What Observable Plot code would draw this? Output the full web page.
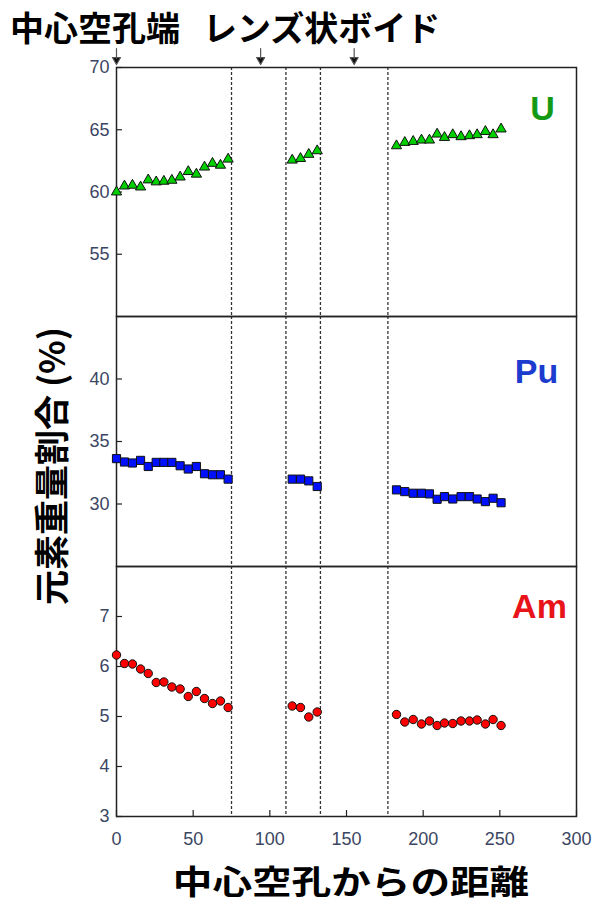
<!DOCTYPE html>
<html><head><meta charset="utf-8">
<script src="https://cdn.jsdelivr.net/npm/d3@7"></script>
<script src="https://cdn.jsdelivr.net/npm/@observablehq/plot@0.6"></script>
<style>
html,body{margin:0;padding:0;background:#fff;}
#wrap{position:relative;width:598px;height:904px;overflow:hidden;font-family:"Noto Sans CJK JP",sans-serif;}
.abs{position:absolute;}
.ttl{font-family:"Noto Sans CJK JP";font-weight:bold;color:#000;line-height:1;white-space:nowrap;}
</style></head>
<body><div id="wrap"></div>
<script>
// ---- data ----
const xGroup1 = [0, 5.2, 10.4, 15.7, 20.7, 25.9, 30.9, 36.1, 41.5, 46.8, 52.1, 57.4, 62.6, 67.8, 72.8];
const xGroup2 = [114.6, 120, 125.4, 130.9];
const xGroup3 = [182.6, 188, 193.5, 198.9, 204.1, 209.1, 213.9, 219.3, 224.7, 230.2, 235.2, 240.6, 245.6, 250.8];
const uValues = [60.0, 60.48, 60.54, 60.4, 60.97, 60.81, 60.86, 60.94, 61.2, 61.64, 61.43, 62.0, 62.3, 62.15, 62.64,
                 62.56, 62.69, 63.02, 63.31,
                 63.71, 63.98, 64.06, 64.17, 64.17, 64.65, 64.38, 64.6, 64.44, 64.52, 64.6, 64.86, 64.6, 65.06];
const puValues = [33.63, 33.36, 33.28, 33.49, 33.0, 33.33, 33.33, 33.33, 33.06, 32.8, 33.0, 32.42, 32.34, 32.34, 31.99,
                  31.99, 31.99, 31.85, 31.4,
                  31.13, 30.99, 30.86, 30.86, 30.81, 30.38, 30.59, 30.4, 30.59, 30.59, 30.4, 30.19, 30.46, 30.1];
const amValues = [6.23, 6.06, 6.05, 5.95, 5.86, 5.68, 5.69, 5.59, 5.55, 5.40, 5.50, 5.36, 5.26, 5.31, 5.18,
                  5.21, 5.18, 4.99, 5.09,
                  5.04, 4.89, 4.94, 4.85, 4.91, 4.82, 4.87, 4.86, 4.91, 4.91, 4.93, 4.85, 4.94, 4.82];
const dashX = [75, 110.5, 133, 177];
const arrowX = [0, 94, 155];
const xTicks = [0, 50, 100, 150, 200, 250, 300];
const uTicks = [55, 60, 65, 70];
const puTicks = [30, 35, 40];
const amTicks = [3, 4, 5, 6, 7];
const topLabel1 = "中心空孔端";
const topLabel2 = "レンズ状ボイド";
const yTitle = "元素重量割合 (%)";
const xTitle = "中心空孔からの距離";

const xs = [...xGroup1, ...xGroup2, ...xGroup3];
const rows = vals => xs.map((x, i) => ({x, v: vals[i]}));

const wrap = document.getElementById("wrap");
const W = 598, ML = 116, MR = 22;
const tickFont = "Liberation Sans, Arial, sans-serif";
const tickColor = "#3b4663";
const fmt = d3.format("d");

const arrowShape = {draw(ctx, l) {
  ctx.moveTo(0, 0); ctx.lineTo(0, -l + 6);
  ctx.moveTo(-4, -l + 7); ctx.lineTo(0, -l); ctx.lineTo(4, -l + 7); ctx.closePath();
}};

function panel({vals, domain, ticks, symbol, fill, r, label, labelColor, labelDx, labelDy, top, mt, mb, plotH, xAxis, arrows}) {
  const marks = [
    Plot.ruleX(dashX, {stroke: "#333", strokeWidth: 1.3, strokeDasharray: "3,2"}),
    Plot.frame({stroke: "#222", strokeWidth: 1.5}),
    Plot.axisY(ticks, {anchor: "left", label: null, tickFormat: fmt, tickSize: -6, tickPadding: 13, fontSize: 18, fontFamily: tickFont, fill: tickColor, stroke: "#222", strokeWidth: 1.2}),
    Plot.dot(rows(vals), {x: "x", y: "v", symbol, r, fill, stroke: "#111", strokeWidth: 1}),
    Plot.text([label], {frameAnchor: "top-right", textAnchor: "middle", lineAnchor: "top", dx: labelDx, dy: labelDy,
      fontSize: 34, fontWeight: "bold", fontFamily: "Liberation Sans, Arial, sans-serif", fill: labelColor})
  ];
  if (xAxis) marks.push(Plot.axisX(xTicks, {anchor: "bottom", label: null, tickFormat: fmt, tickSize: -6, tickPadding: 22, fontSize: 18, fontFamily: tickFont, fill: tickColor, stroke: "#222", strokeWidth: 1.2}));
  if (arrows) marks.push(Plot.vector(arrowX, {x: d => d, frameAnchor: "top", rotate: 180, length: 16, anchor: "end", dy: -3,
      shape: arrowShape, stroke: "#555", fill: "#111", strokeWidth: 1.2}));
  const p = Plot.plot({
    width: W, height: mt + plotH + mb,
    marginLeft: ML, marginRight: MR, marginTop: mt, marginBottom: mb,
    style: {background: "transparent", overflow: "visible"},
    x: {domain: [0, 300], axis: null},
    y: {domain, axis: null},
    marks
  });
  p.style.position = "absolute"; p.style.left = "0px"; p.style.top = top + "px";
  wrap.appendChild(p);
}

panel({vals: uValues, domain: [50, 70], ticks: uTicks, symbol: "triangle", fill: "#00d000", r: 3.8,
  label: "U", labelColor: "#149a14", labelDx: -34, labelDy: 28, top: 0, mt: 67, mb: 5, plotH: 249, arrows: true});
panel({vals: puValues, domain: [25, 45], ticks: puTicks, symbol: "square", fill: "#0010ff", r: 4.6,
  label: "Pu", labelColor: "#1b3ccf", labelDx: -40, labelDy: 42, top: 306, mt: 10, mb: 5, plotH: 250});
panel({vals: amValues, domain: [3, 8], ticks: amTicks, symbol: "circle", fill: "#ff0000", r: 4.2,
  label: "Am", labelColor: "#e8141a", labelDx: -37, labelDy: 27, top: 556, mt: 10, mb: 50, plotH: 250, xAxis: true});

function addText(txt, css) {
  const d = document.createElement("div");
  d.className = "abs ttl"; d.textContent = txt;
  Object.assign(d.style, css);
  wrap.appendChild(d);
  return d;
}
addText(topLabel1, {left: "10px", top: "10px", fontSize: "34px"});
addText(topLabel2, {left: "203px", top: "10px", fontSize: "34px"});
addText(yTitle, {left: "49px", top: "466px", fontSize: "35px", transform: "translate(-50%,-50%) rotate(-90deg)"});
addText(xTitle, {left: "351px", top: "880px", fontSize: "33px", transform: "translate(-50%,-50%) scaleX(1.2)"});
</script></body></html>
